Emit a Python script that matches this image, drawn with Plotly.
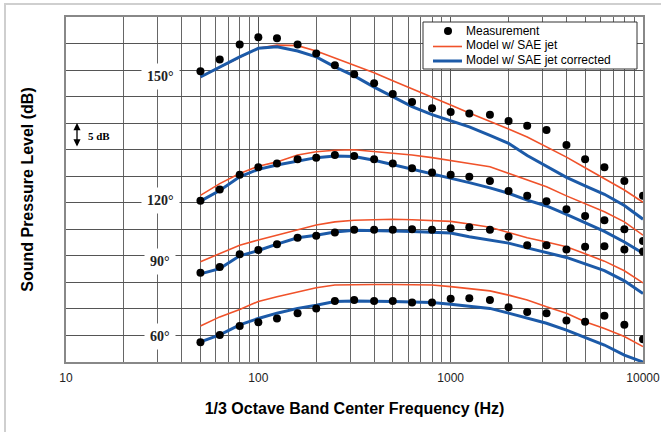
import plotly.graph_objects as go

freqs = [50, 63, 80, 100, 125, 160, 200, 250, 315, 400, 500, 630, 800, 1000,
         1250, 1600, 2000, 2500, 3150, 4000, 5000, 6300, 8000, 10000]

meas_150 = [54.8, 57.0, 59.8, 61.2, 61.0, 59.8, 58.1, 55.9, 54.2, 52.5, 50.5, 49.0,
            47.8, 47.1, 46.8, 46.6, 45.4, 44.5, 43.7, 40.9, 38.2, 36.7, 34.1, 31.3]
red_150 = [53.7, 55.5, 57.4, 59.1, 59.7, 59.6, 58.6, 57.3, 56.0, 54.5, 53.0, 51.5,
           50.0, 48.4, 46.9, 45.4, 43.9, 42.4, 40.6, 38.6, 36.6, 34.5, 32.4, 30.1]
blue_150 = [53.7, 55.6, 57.5, 59.1, 59.4, 58.6, 57.5, 55.6, 53.9, 51.8, 50.0, 48.1,
            46.6, 45.4, 44.3, 42.7, 41.2, 38.9, 36.9, 34.8, 33.2, 31.6, 29.5, 26.9]

meas_120 = [30.4, 32.5, 35.3, 36.7, 37.4, 38.2, 38.5, 39.0, 38.8, 38.2, 37.4, 36.5,
            35.7, 35.3, 34.9, 34.1, 32.2, 31.3, 30.3, 28.8, 27.5, 26.7, 25.0, 22.8]
red_120 = [31.4, 33.6, 35.5, 36.9, 37.7, 39.0, 39.6, 39.9, 40.0, 39.7, 39.4, 39.0,
           38.5, 38.0, 37.4, 36.8, 35.5, 34.3, 33.0, 31.3, 29.9, 28.3, 26.4, 23.9]
blue_120 = [30.3, 32.3, 34.9, 36.3, 37.1, 37.9, 38.5, 38.8, 38.7, 38.0, 37.2, 36.3,
            35.5, 34.7, 33.8, 32.8, 31.8, 30.5, 29.4, 27.8, 26.3, 24.6, 22.6, 20.5]

meas_90 = [16.8, 17.9, 20.3, 21.1, 22.2, 23.4, 23.8, 24.4, 24.9, 24.9, 24.9, 25.0,
           24.9, 25.2, 25.4, 24.9, 23.6, 22.0, 22.0, 21.2, 21.7, 21.8, 21.2, 20.8]
red_90 = [18.9, 20.5, 22.0, 23.0, 23.9, 25.0, 25.8, 26.4, 26.7, 26.8, 26.9, 26.8,
          26.7, 26.5, 26.0, 25.4, 24.4, 23.4, 22.6, 21.7, 20.4, 19.0, 17.2, 14.9]
blue_90 = [16.6, 17.6, 20.0, 21.0, 22.2, 23.4, 23.9, 24.5, 24.8, 24.8, 24.7, 24.6,
           24.5, 24.3, 23.6, 23.0, 22.4, 21.5, 20.6, 19.7, 18.5, 17.2, 15.3, 12.9]

meas_60 = [3.7, 5.1, 6.8, 7.5, 8.2, 9.2, 10.1, 11.5, 11.7, 11.5, 11.5, 11.2,
           11.2, 11.9, 12.0, 11.7, 10.3, 9.4, 9.2, 7.8, 7.6, 8.7, 7.0, 4.3]
red_60 = [6.8, 8.5, 9.9, 11.4, 12.3, 13.2, 14.0, 14.5, 14.6, 14.6, 14.6, 14.6,
          14.5, 14.2, 13.8, 13.4, 12.6, 11.7, 10.4, 9.2, 7.6, 6.3, 4.8, 2.9]
blue_60 = [3.8, 5.1, 7.0, 8.2, 9.2, 10.1, 10.7, 11.4, 11.5, 11.5, 11.4, 11.3,
           11.2, 10.9, 10.5, 10.1, 9.2, 8.2, 7.3, 6.0, 4.6, 3.2, 1.3, 0.0]

angle_labels = ["150°", "120°", "90°", "60°"]
angle_label_y = [53.8, 30.4, 18.9, 4.8]

legend_names = ["Measurement", "Model w/ SAE jet", "Model w/ SAE jet corrected"]

x_ticks = [10, 100, 1000, 10000]
x_minor = [m * d for d in [10, 100, 1000] for m in range(2, 10)]

RED = "#f0522a"
BLUE = "#1c5aa8"

# plot-area pixel geometry helpers (for legend/annotation placement only)
PL, PR, PT, PB = 66, 643, 17, 362


def px(xp):
    return (xp - PL) / (PR - PL)


def py(yp):
    return (PB - yp) / (PB - PT)


def joined(series_list):
    xs, ys = [], []
    for s in series_list:
        xs += freqs + [None]
        ys += s + [None]
    return xs, ys


fig = go.Figure()
rx, ry = joined([red_150, red_120, red_90, red_60])
bx, by = joined([blue_150, blue_120, blue_90, blue_60])
mx, my = joined([meas_150, meas_120, meas_90, meas_60])

fig.add_trace(go.Scatter(x=rx, y=ry, mode="lines", name=legend_names[1],
                         line=dict(color=RED, width=1.6)))
fig.add_trace(go.Scatter(x=bx, y=by, mode="lines", name=legend_names[2],
                         line=dict(color=BLUE, width=3)))
fig.add_trace(go.Scatter(x=mx, y=my, mode="markers", name=legend_names[0],
                         marker=dict(color="black", size=8)))

annotations = []
for lab, yv in zip(angle_labels, angle_label_y):
    annotations.append(dict(x=0.163, xref="paper", y=yv, yref="y", text="<b>" + lab + "</b>",
                            showarrow=False, bgcolor="white", borderpad=5,
                            font=dict(family="Liberation Serif", size=14, color="#222"),
                            xanchor="center", yanchor="middle"))
# 5 dB scale marker
annotations.append(dict(x=px(77), xref="paper", y=py(123), yref="paper",
                        ax=0, ay=25, axref="pixel", ayref="pixel", text="",
                        showarrow=True, arrowside="end+start", arrowhead=2,
                        arrowsize=1.1, arrowwidth=1.3, arrowcolor="black"))
annotations.append(dict(x=px(86), xref="paper", y=py(136), yref="paper",
                        text="<b>5 dB</b>", showarrow=False, xanchor="left", yanchor="middle",
                        font=dict(family="Liberation Serif", size=11, color="black")))

# legend (drawn box with samples)
leg_y = [31, 45.5, 60]
for name, yy in zip(legend_names, leg_y):
    annotations.append(dict(x=px(465), xref="paper", y=py(yy), yref="paper",
                            text=name, showarrow=False, xanchor="left", yanchor="middle",
                            borderpad=0,
                            font=dict(family="Liberation Sans", size=12, color="black")))

shapes = [
    dict(type="rect", xref="paper", yref="paper",
         x0=px(5), x1=px(700), y0=py(460), y1=py(4),
         line=dict(color="#cfcfcf", width=2), layer="below"),
    dict(type="rect", xref="paper", yref="paper",
         x0=px(423), x1=px(637), y0=py(69), y1=py(22),
         line=dict(color="#333", width=1), fillcolor="white", layer="above"),
    dict(type="circle", xref="paper", yref="paper",
         x0=px(444), x1=px(452), y0=py(35), y1=py(27),
         line=dict(color="black", width=0), fillcolor="black", layer="above"),
    dict(type="line", xref="paper", yref="paper",
         x0=px(433), x1=px(462), y0=py(46.5), y1=py(46.5),
         line=dict(color=RED, width=1.6), layer="above"),
    dict(type="line", xref="paper", yref="paper",
         x0=px(433), x1=px(462), y0=py(61), y1=py(61),
         line=dict(color=BLUE, width=3), layer="above"),
]

fig.update_layout(
    width=661, height=432,
    margin=dict(l=PL, r=661 - PR, t=PT, b=432 - PB),
    paper_bgcolor="white", plot_bgcolor="white",
    font=dict(family="Liberation Sans", color="black"),
    showlegend=False,
    annotations=annotations,
    shapes=shapes,
    hovermode=False,
)

fig.update_xaxes(type="log", range=[1, 4], tickvals=x_ticks,
                 ticktext=[str(v) for v in x_ticks], automargin=False,
                 showgrid=True, gridcolor="#555", gridwidth=1,
                 minor=dict(tickvals=x_minor, showgrid=True, gridcolor="#666",
                            gridwidth=1, ticks=""),
                 showline=True, mirror=True, linecolor="#888", linewidth=2,
                 ticks="", tickfont=dict(size=12, color="#222"), ticklabelstandoff=4,
                 title=dict(text="<b>1/3 Octave Band Center Frequency (Hz)</b>",
                            font=dict(size=16), standoff=18),
                 zeroline=False)
fig.update_yaxes(range=[0, 65], dtick=5, showticklabels=False, automargin=False,
                 showgrid=True, gridcolor="#555", gridwidth=1,
                 showline=True, mirror=True, linecolor="#888", linewidth=2,
                 ticks="", zeroline=False,
                 title=dict(text="<b>Sound Pressure Level (dB)</b>",
                            font=dict(size=16), standoff=26))

fig.write_html("out.html", config={"displayModeBar": False},
               post_script="document.body.style.margin='0';document.body.style.overflow='hidden';")
